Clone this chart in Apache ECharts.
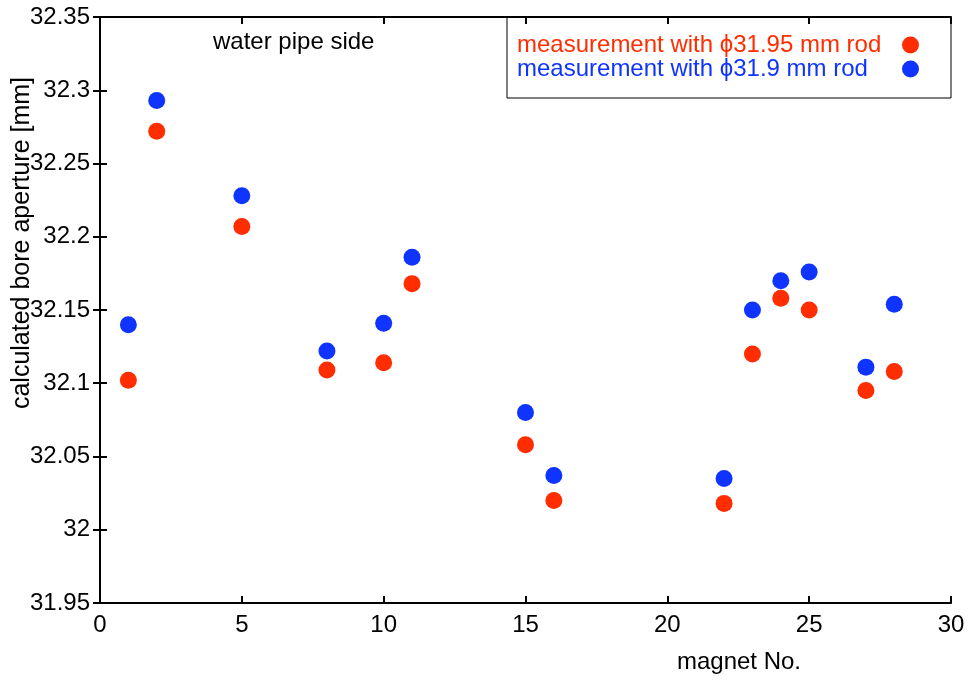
<!DOCTYPE html>
<html>
<head>
<meta charset="utf-8">
<script src="https://cdn.jsdelivr.net/npm/echarts@6/dist/echarts.min.js"></script>
<style>html,body{margin:0;padding:0;background:#fff}#c{width:974px;height:683px}</style>
</head>
<body>
<div id="c"></div>
<script>
const magnetNo = [1, 2, 5, 8, 10, 11, 15, 16, 22, 23, 24, 25, 27, 28];
const rod3195 = [32.102, 32.272, 32.207, 32.109, 32.114, 32.168, 32.058, 32.020, 32.018, 32.120, 32.158, 32.150, 32.095, 32.108];
const rod319 = [32.140, 32.293, 32.228, 32.122, 32.141, 32.186, 32.080, 32.037, 32.035, 32.150, 32.170, 32.176, 32.111, 32.154];
const seriesNames = ['measurement with \u03d531.95 mm rod', 'measurement with \u03d531.9 mm rod'];
const RED = '#FF2D00', BLUE = '#0F34FF';
const FONT = '"Liberation Sans", Arial, Helvetica, sans-serif';

const chart = echarts.init(document.getElementById('c'));
const axisCommon = {
  axisLine: {show: true, lineStyle: {color: '#000', width: 2}},
  axisTick: {show: true, inside: true, length: 7, lineStyle: {color: '#000', width: 2}},
  splitLine: {show: false},
  axisLabel: {color: '#000', fontSize: 24, fontFamily: FONT}
};
chart.setOption({
  animation: false,
  backgroundColor: '#fff',
  grid: {left: 100, right: 23, top: 17, bottom: 80, show: false},
  xAxis: [
    Object.assign({}, axisCommon, {type: 'value', position: 'bottom', min: 0, max: 30, interval: 5,
      axisLabel: Object.assign({}, axisCommon.axisLabel, {margin: 10})}),
    Object.assign({}, axisCommon, {type: 'value', position: 'top', min: 0, max: 30, interval: 5,
      axisLabel: {show: false}})
  ],
  yAxis: [
    Object.assign({}, axisCommon, {type: 'value', position: 'left', min: 31.95, max: 32.35, interval: 0.05,
      axisLabel: Object.assign({}, axisCommon.axisLabel, {margin: 10})}),
    Object.assign({}, axisCommon, {type: 'value', position: 'right', min: 31.95, max: 32.35, interval: 0.05,
      axisLabel: {show: false}})
  ],
  legend: {
    orient: 'vertical', align: 'right', right: 55, top: 33, padding: 0, itemGap: 0,
    itemWidth: 17, itemHeight: 17, icon: 'circle',
    data: seriesNames,
    formatter: function (n) { return (n === seriesNames[0] ? '{r|' : '{b|') + n + '}'; },
    textStyle: {
      fontSize: 24, fontFamily: FONT,
      rich: {
        r: {color: RED, fontSize: 24, fontFamily: FONT, width: 380, align: 'left', lineHeight: 25},
        b: {color: BLUE, fontSize: 24, fontFamily: FONT, width: 380, align: 'left', lineHeight: 25}
      }
    }
  },
  graphic: [
    {type: 'rect', shape: {x: 507, y: 17, width: 444, height: 81}, style: {fill: 'rgba(0,0,0,0)', stroke: '#000', lineWidth: 1}, z: 1},
    {type: 'text', x: 213, y: 42, style: {text: 'water pipe side', fill: '#000', fontSize: 24, fontFamily: FONT, textVerticalAlign: 'middle'}},
    {type: 'text', x: 739, y: 662, style: {text: 'magnet No.', fill: '#000', fontSize: 24, fontFamily: FONT, textAlign: 'center', textVerticalAlign: 'middle'}},
    {type: 'text', x: 22, y: 243, rotation: Math.PI / 2, style: {text: 'calculated bore aperture [mm]', fill: '#000', fontSize: 25, fontFamily: FONT, textAlign: 'center', textVerticalAlign: 'middle'}}
  ],
  series: [
    {name: seriesNames[0], type: 'scatter', symbol: 'circle', symbolSize: 17, itemStyle: {color: RED, opacity: 1},
      data: magnetNo.map((x, i) => [x, rod3195[i]])},
    {name: seriesNames[1], type: 'scatter', symbol: 'circle', symbolSize: 17, itemStyle: {color: BLUE, opacity: 1},
      data: magnetNo.map((x, i) => [x, rod319[i]])}
  ]
});
</script>
</body>
</html>
